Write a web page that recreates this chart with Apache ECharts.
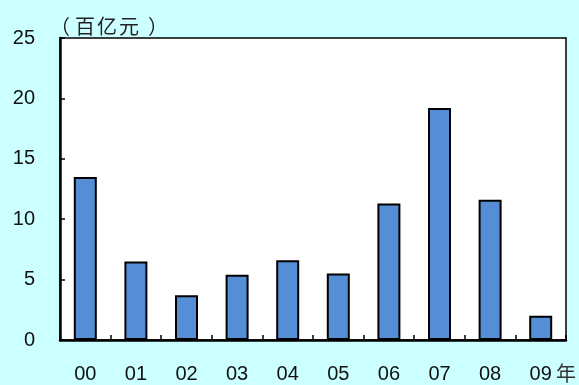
<!DOCTYPE html>
<html>
<head>
<meta charset="utf-8">
<script src="https://cdn.jsdelivr.net/npm/echarts@6/dist/echarts.min.js"></script>
<style>
html,body{margin:0;padding:0;background:#ccffff;}
#c{width:579px;height:385px;}
</style>
</head>
<body>
<div id="c"></div>
<script>
var categories = ["00","01","02","03","04","05","06","07","08","09"];
var values = [13.5, 6.5, 3.7, 5.4, 6.6, 5.5, 11.3, 19.2, 11.6, 2.0];
var yTicks = [0, 5, 10, 15, 20, 25];
var unitLabel = "（百亿元）";
var yearSuffix = "年";

var chart = echarts.init(document.getElementById('c'), null, {renderer:'canvas'});
var font = "'Liberation Sans', Arial, sans-serif";
var cjk = "'Noto Sans CJK SC', sans-serif";

// unit label drawn char by char to mimic the wide spacing of the original
var unitChars = Array.from(unitLabel);
var unitLefts = [50, 75, 97, 119, 148];
var graphics = unitChars.map(function (ch, i) {
  return {type: 'text', x: unitLefts[i], y: 26,
    style: {text: ch, fontSize: 20, fill: '#222', fontFamily: cjk, textVerticalAlign: 'middle', verticalAlign: 'middle'}};
});
graphics.push({type: 'text', left: 556, top: 363, style: {text: yearSuffix, fontSize: 20, fill: '#333', fontFamily: cjk}});

chart.setOption({
  backgroundColor: '#ccffff',
  animation: false,
  grid: {left: 60, right: 13, top: 38, bottom: 45, show: true, backgroundColor: '#ffffff', borderColor: '#000', borderWidth: 1.5},
  xAxis: {
    type: 'category', data: categories, boundaryGap: true,
    axisLine: {show: true, lineStyle: {color: '#000', width: 2.5}},
    axisTick: {show: true, inside: true, length: 5, lineStyle: {color: '#000', width: 1.5}},
    axisLabel: {margin: 24, fontSize: 20, color: '#111', fontFamily: font}
  },
  yAxis: {
    type: 'value', min: yTicks[0], max: yTicks[yTicks.length-1], interval: 5,
    splitLine: {show: false},
    axisLine: {show: true, lineStyle: {color: '#000', width: 2.5}},
    axisTick: {show: true, inside: true, length: 5, lineStyle: {color: '#000', width: 1.5}},
    axisLabel: {margin: 25, fontSize: 20, color: '#111', fontFamily: font}
  },
  series: [{
    type: 'bar', data: values, barWidth: 23,
    itemStyle: {color: '#558ed5', borderColor: '#000', borderWidth: 2}
  }],
  graphic: graphics
});
</script>
</body>
</html>
